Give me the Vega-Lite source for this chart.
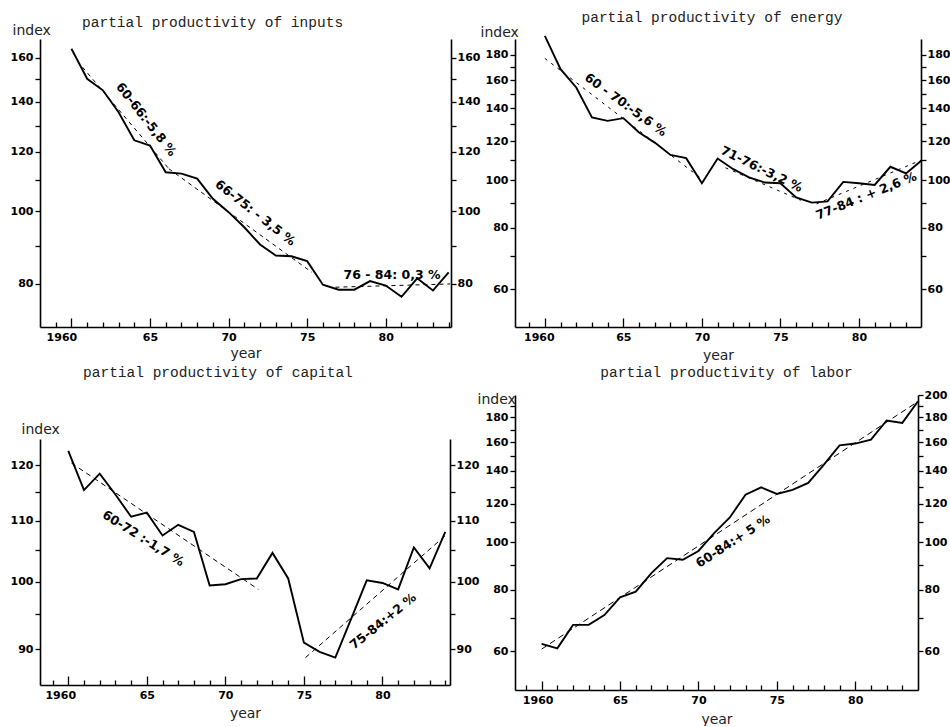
{
  "$schema": "https://vega.github.io/schema/vega-lite/v6.json",
  "padding": {"left": 10, "top": 9, "right": 0, "bottom": 0},
  "background": "white",
  "bounds": "full",
  "spacing": -3,
  "datasets": {
    "inputs": [
      {"year": 1960, "value": 164.6}, {"year": 1961, "value": 150.1}, {"year": 1962, "value": 144.9},
      {"year": 1963, "value": 135.5}, {"year": 1964, "value": 124.3}, {"year": 1965, "value": 122.3},
      {"year": 1966, "value": 112.7}, {"year": 1967, "value": 112.2}, {"year": 1968, "value": 110.5},
      {"year": 1969, "value": 103.9}, {"year": 1970, "value": 99.7}, {"year": 1971, "value": 95.2},
      {"year": 1972, "value": 90.3}, {"year": 1973, "value": 87.3}, {"year": 1974, "value": 87.1},
      {"year": 1975, "value": 85.8}, {"year": 1976, "value": 79.8}, {"year": 1977, "value": 78.6},
      {"year": 1978, "value": 78.6}, {"year": 1979, "value": 80.7}, {"year": 1980, "value": 79.6},
      {"year": 1981, "value": 76.9}, {"year": 1982, "value": 81.4}, {"year": 1983, "value": 78.4},
      {"year": 1984, "value": 82.9}
    ],
    "inputs_trend": [
      {"seg": "a", "year": 1960.7, "value": 155.6}, {"seg": "a", "year": 1966.2, "value": 113.9},
      {"seg": "b", "year": 1966.2, "value": 113.9}, {"seg": "b", "year": 1975.3, "value": 82.9},
      {"seg": "c", "year": 1976.8, "value": 79.2}, {"seg": "c", "year": 1984.1, "value": 80.0}
    ],
    "inputs_notes": [
      {"n": 1, "year": 1964.75, "value": 132.5, "text": "60-66:-5,8 %"},
      {"n": 2, "year": 1971.7, "value": 99.5, "text": "66-75: - 3,5 %"},
      {"n": 3, "year": 1980.4, "value": 82.2, "text": "76 - 84: 0,3 %"}
    ],
    "energy": [
      {"year": 1960, "value": 196.9}, {"year": 1961, "value": 168.4}, {"year": 1962, "value": 154.5},
      {"year": 1963, "value": 134.2}, {"year": 1964, "value": 132.1}, {"year": 1965, "value": 133.8},
      {"year": 1966, "value": 125.1}, {"year": 1967, "value": 119.3}, {"year": 1968, "value": 112.6},
      {"year": 1969, "value": 110.9}, {"year": 1970, "value": 98.6}, {"year": 1971, "value": 110.7},
      {"year": 1972, "value": 105.3}, {"year": 1973, "value": 101.3}, {"year": 1974, "value": 98.9},
      {"year": 1975, "value": 98.6}, {"year": 1976, "value": 92.2}, {"year": 1977, "value": 90.0},
      {"year": 1978, "value": 90.5}, {"year": 1979, "value": 99.2}, {"year": 1980, "value": 98.6},
      {"year": 1981, "value": 97.8}, {"year": 1982, "value": 106.5}, {"year": 1983, "value": 103.2},
      {"year": 1984, "value": 109.8}
    ],
    "energy_trend": [
      {"seg": "a", "year": 1960.0, "value": 177.1}, {"seg": "a", "year": 1970.1, "value": 100.0},
      {"seg": "b", "year": 1971.5, "value": 106.0}, {"seg": "b", "year": 1976.3, "value": 91.0},
      {"seg": "c", "year": 1977.3, "value": 89.5}, {"seg": "c", "year": 1984.0, "value": 110.0}
    ],
    "energy_notes": [
      {"n": 1, "year": 1965.14, "value": 142.4, "text": "60 - 70:-5,6 %"},
      {"n": 2, "year": 1973.8, "value": 105.3, "text": "71-76:-3,2 %"},
      {"n": 3, "year": 1980.47, "value": 92.9, "text": "77-84 : + 2,6 %"}
    ],
    "capital": [
      {"year": 1960, "value": 122.7}, {"year": 1961, "value": 115.4}, {"year": 1962, "value": 118.4},
      {"year": 1963, "value": 114.6}, {"year": 1964, "value": 110.7}, {"year": 1965, "value": 111.4},
      {"year": 1966, "value": 107.5}, {"year": 1967, "value": 109.3}, {"year": 1968, "value": 108.1},
      {"year": 1969, "value": 99.4}, {"year": 1970, "value": 99.6}, {"year": 1971, "value": 100.4},
      {"year": 1972, "value": 100.5}, {"year": 1973, "value": 104.6}, {"year": 1974, "value": 100.5},
      {"year": 1975, "value": 90.9}, {"year": 1976, "value": 89.6}, {"year": 1977, "value": 88.8},
      {"year": 1978, "value": 94.3}, {"year": 1979, "value": 100.2}, {"year": 1980, "value": 99.8},
      {"year": 1981, "value": 98.8}, {"year": 1982, "value": 105.5}, {"year": 1983, "value": 102.1},
      {"year": 1984, "value": 108.1}
    ],
    "capital_trend": [
      {"seg": "a", "year": 1960.2, "value": 120.4}, {"seg": "a", "year": 1972.1, "value": 98.8},
      {"seg": "b", "year": 1975.1, "value": 88.8}, {"seg": "b", "year": 1984.1, "value": 107.7}
    ],
    "capital_notes": [
      {"n": 1, "year": 1964.77, "value": 107.0, "text": "60-72 :-1,7 %"},
      {"n": 2, "year": 1980.04, "value": 94.0, "text": "75-84:+2 %"}
    ],
    "labor": [
      {"year": 1960, "value": 62.1}, {"year": 1961, "value": 60.8}, {"year": 1962, "value": 67.9},
      {"year": 1963, "value": 67.9}, {"year": 1964, "value": 71.1}, {"year": 1965, "value": 77.3},
      {"year": 1966, "value": 79.4}, {"year": 1967, "value": 86.6}, {"year": 1968, "value": 92.9},
      {"year": 1969, "value": 92.2}, {"year": 1970, "value": 96.1}, {"year": 1971, "value": 104.5},
      {"year": 1972, "value": 112.5}, {"year": 1973, "value": 125.2}, {"year": 1974, "value": 129.6},
      {"year": 1975, "value": 125.6}, {"year": 1976, "value": 128.1}, {"year": 1977, "value": 132.3},
      {"year": 1978, "value": 144.2}, {"year": 1979, "value": 157.9}, {"year": 1980, "value": 159.2},
      {"year": 1981, "value": 162.2}, {"year": 1982, "value": 177.4}, {"year": 1983, "value": 175.4},
      {"year": 1984, "value": 194.2}
    ],
    "labor_trend": [
      {"seg": "a", "year": 1960.0, "value": 60.6}, {"seg": "a", "year": 1984.0, "value": 194.0}
    ],
    "labor_notes": [
      {"n": 1, "year": 1972.2, "value": 100.5, "text": "60-84:+ 5 %"}
    ]
  },
  "hconcat": [
    {
      "bounds": "flush",
      "spacing": 112,
      "vconcat": [
        {
          "width": 411, "height": 288,
          "title": {"text": "partial productivity of inputs", "anchor": "start", "dx": 72, "offset": -7},
          "encoding": {
            "x": {"field": "year", "type": "quantitative", "scale": {"domain": [1958, 1984.15], "nice": false, "zero": false},
              "axis": {"values": [1959,1960,1961,1962,1963,1964,1965,1966,1967,1968,1969,1970,1971,1972,1973,1974,1975,1976,1977,1978,1979,1980,1981,1982,1983,1984],
                "labelExpr": "datum.value % 5 === 0 ? (datum.value === 1960 ? '1960' : substring(toString(datum.value), 2, 4)) : ''",
                "tickSize": {"condition": {"test": "datum.value % 5 === 0", "value": -9}, "value": -5},
                "labelOffset": {"condition": {"test": "datum.value === 1960", "value": -10}, "value": 0},
                "labelPadding": 13, "labelFlush": false, "labelOverlap": false,
                "title": "year", "titlePadding": 0}},
            "y": {"field": "value", "type": "quantitative", "scale": {"type": "log", "domain": [70.1, 169.6], "nice": false}, "axis": null}
          },
          "layer": [
            {"data": {"name": "inputs"}, "mark": {"type": "line", "color": "#000", "strokeWidth": 1.9},
              "encoding": {"y": {"field": "value", "type": "quantitative", "scale": {"type": "log", "domain": [70.1, 169.6], "nice": false},
                "axis": {"orient": "left", "values": [80,90,100,110,120,130,140,150,160], "labelExpr": "datum.value % 20 === 0 ? toString(datum.value) : ''",
                  "labelOverlap": false, "labelFlush": false, "title": "index", "titleAngle": 0, "titleAlign": "left", "titleBaseline": "middle", "titleX": -28, "titleY": -9}}}},
            {"data": {"name": "inputs_trend"}, "mark": {"type": "line", "color": "#000", "strokeWidth": 1, "strokeDash": [4, 4]},
              "encoding": {"detail": {"field": "seg"},
                "y": {"field": "value", "type": "quantitative", "scale": {"type": "log", "domain": [70.1, 169.6], "nice": false},
                "axis": {"orient": "right", "values": [80,90,100,110,120,130,140,150,160], "labelExpr": "datum.value % 20 === 0 ? toString(datum.value) : ''",
                  "labelOverlap": false, "labelFlush": false, "labelPadding": 1, "title": null}}}},
            {"data": {"name": "inputs_notes"}, "transform": [{"filter": "datum.n === 1"}], "mark": {"type": "text", "angle": 52, "font": "DejaVu Sans", "fontWeight": "bold", "fontSize": 12.5, "color": "#000"}, "encoding": {"text": {"field": "text"}}},
            {"data": {"name": "inputs_notes"}, "transform": [{"filter": "datum.n === 2"}], "mark": {"type": "text", "angle": 38, "font": "DejaVu Sans", "fontWeight": "bold", "fontSize": 12.5, "color": "#000"}, "encoding": {"text": {"field": "text"}}},
            {"data": {"name": "inputs_notes"}, "transform": [{"filter": "datum.n === 3"}], "mark": {"type": "text", "angle": 0, "font": "DejaVu Sans", "fontWeight": "bold", "fontSize": 12.5, "color": "#000"}, "encoding": {"text": {"field": "text"}}}
          ],
          "resolve": {"axis": {"y": "independent"}}
        },
        {
          "width": 410, "height": 246,
          "title": {"text": "partial productivity of capital", "anchor": "start", "dx": 73, "offset": 42},
          "encoding": {
            "x": {"field": "year", "type": "quantitative", "scale": {"domain": [1958.2, 1984.3], "nice": false, "zero": false},
              "axis": {"values": [1959,1960,1961,1962,1963,1964,1965,1966,1967,1968,1969,1970,1971,1972,1973,1974,1975,1976,1977,1978,1979,1980,1981,1982,1983,1984],
                "labelExpr": "datum.value % 5 === 0 ? (datum.value === 1960 ? '1960' : substring(toString(datum.value), 2, 4)) : ''",
                "tickSize": {"condition": {"test": "datum.value % 5 === 0", "value": -9}, "value": -5},
                "labelOffset": {"condition": {"test": "datum.value === 1960", "value": -8}, "value": 0},
                "labelPadding": 13, "labelFlush": false, "labelOverlap": false,
                "title": "year", "titlePadding": 2}},
            "y": {"field": "value", "type": "quantitative", "scale": {"type": "log", "domain": [85.08, 125], "nice": false}, "axis": null}
          },
          "layer": [
            {"data": {"name": "capital"}, "mark": {"type": "line", "color": "#000", "strokeWidth": 1.9},
              "encoding": {"y": {"field": "value", "type": "quantitative", "scale": {"type": "log", "domain": [85.08, 125], "nice": false},
                "axis": {"orient": "left", "values": [90,95,100,105,110,115,120], "labelExpr": "datum.value % 10 === 0 ? toString(datum.value) : ''",
                  "labelOverlap": false, "labelFlush": false, "title": "index", "titleAngle": 0, "titleAlign": "left", "titleBaseline": "middle", "titleX": -19, "titleY": -10}}}},
            {"data": {"name": "capital_trend"}, "mark": {"type": "line", "color": "#000", "strokeWidth": 1, "strokeDash": [5, 4]},
              "encoding": {"detail": {"field": "seg"},
                "y": {"field": "value", "type": "quantitative", "scale": {"type": "log", "domain": [85.08, 125], "nice": false},
                "axis": {"orient": "right", "values": [90,95,100,105,110,115,120], "labelExpr": "datum.value % 10 === 0 ? toString(datum.value) : ''",
                  "labelOverlap": false, "labelFlush": false, "labelPadding": 1, "title": null}}}},
            {"data": {"name": "capital_notes"}, "transform": [{"filter": "datum.n === 1"}], "mark": {"type": "text", "angle": 32, "font": "DejaVu Sans", "fontWeight": "bold", "fontSize": 12.5, "color": "#000"}, "encoding": {"text": {"field": "text"}}},
            {"data": {"name": "capital_notes"}, "transform": [{"filter": "datum.n === 2"}], "mark": {"type": "text", "angle": -39, "font": "DejaVu Sans", "fontWeight": "bold", "fontSize": 12.5, "color": "#000"}, "encoding": {"text": {"field": "text"}}}
          ],
          "resolve": {"axis": {"y": "independent"}}
        }
      ]
    },
    {
      "bounds": "flush",
      "spacing": 68,
      "vconcat": [
        {
          "width": 406, "height": 288,
          "title": {"text": "partial productivity of energy", "anchor": "middle", "dx": -6, "offset": 0},
          "encoding": {
            "x": {"field": "year", "type": "quantitative", "scale": {"domain": [1958.1, 1983.95], "nice": false, "zero": false},
              "axis": {"values": [1959,1960,1961,1962,1963,1964,1965,1966,1967,1968,1969,1970,1971,1972,1973,1974,1975,1976,1977,1978,1979,1980,1981,1982,1983],
                "labelExpr": "datum.value % 5 === 0 ? (datum.value === 1960 ? '1960' : substring(toString(datum.value), 2, 4)) : ''",
                "tickSize": {"condition": {"test": "datum.value % 5 === 0", "value": -9}, "value": -5},
                "labelOffset": {"condition": {"test": "datum.value === 1960", "value": -6}, "value": 0},
                "labelPadding": 13, "labelFlush": false, "labelOverlap": false,
                "title": "year", "titlePadding": 2}},
            "y": {"field": "value", "type": "quantitative", "scale": {"type": "log", "domain": [50.2, 194], "nice": false}, "axis": null}
          },
          "layer": [
            {"data": {"name": "energy"}, "mark": {"type": "line", "color": "#000", "strokeWidth": 1.9},
              "encoding": {"y": {"field": "value", "type": "quantitative", "scale": {"type": "log", "domain": [50.2, 194], "nice": false},
                "axis": {"orient": "left", "values": [60,70,80,90,100,110,120,130,140,150,160,170,180], "labelExpr": "datum.value % 20 === 0 ? toString(datum.value) : ''",
                  "labelOverlap": false, "labelFlush": false, "title": "index", "titleAngle": 0, "titleAlign": "left", "titleBaseline": "middle", "titleX": -35, "titleY": -7}}}},
            {"data": {"name": "energy_trend"}, "mark": {"type": "line", "color": "#000", "strokeWidth": 1, "strokeDash": [3, 5]},
              "encoding": {"detail": {"field": "seg"},
                "y": {"field": "value", "type": "quantitative", "scale": {"type": "log", "domain": [50.2, 194], "nice": false},
                "axis": {"orient": "right", "values": [60,70,80,90,100,110,120,130,140,150,160,170,180], "labelExpr": "datum.value % 20 === 0 ? toString(datum.value) : ''",
                  "labelOverlap": false, "labelFlush": false, "labelPadding": 1, "title": null}}}},
            {"data": {"name": "energy_notes"}, "transform": [{"filter": "datum.n === 1"}], "mark": {"type": "text", "angle": 36, "font": "DejaVu Sans", "fontWeight": "bold", "fontSize": 12.5, "color": "#000"}, "encoding": {"text": {"field": "text"}}},
            {"data": {"name": "energy_notes"}, "transform": [{"filter": "datum.n === 2"}], "mark": {"type": "text", "angle": 26, "font": "DejaVu Sans", "fontWeight": "bold", "fontSize": 12.5, "color": "#000"}, "encoding": {"text": {"field": "text"}}},
            {"data": {"name": "energy_notes"}, "transform": [{"filter": "datum.n === 3"}], "mark": {"type": "text", "angle": -22, "font": "DejaVu Sans", "fontWeight": "bold", "fontSize": 12.5, "color": "#000"}, "encoding": {"text": {"field": "text"}}}
          ],
          "resolve": {"axis": {"y": "independent"}}
        },
        {
          "width": 403, "height": 295,
          "title": {"text": "partial productivity of labor", "anchor": "middle", "dx": 10, "offset": 9},
          "encoding": {
            "x": {"field": "year", "type": "quantitative", "scale": {"domain": [1958.3, 1984], "nice": false, "zero": false},
              "axis": {"values": [1959,1960,1961,1962,1963,1964,1965,1966,1967,1968,1969,1970,1971,1972,1973,1974,1975,1976,1977,1978,1979,1980,1981,1982,1983],
                "labelExpr": "datum.value % 5 === 0 ? (datum.value === 1960 ? '1960' : substring(toString(datum.value), 2, 4)) : ''",
                "tickSize": {"condition": {"test": "datum.value % 5 === 0", "value": -9}, "value": -5},
                "labelOffset": {"condition": {"test": "datum.value === 1960", "value": -4}, "value": 0},
                "labelPadding": 13, "labelFlush": false, "labelOverlap": false,
                "title": "year", "titlePadding": 3}},
            "y": {"field": "value", "type": "quantitative", "scale": {"type": "log", "domain": [50, 200], "nice": false}, "axis": null}
          },
          "layer": [
            {"data": {"name": "labor"}, "mark": {"type": "line", "color": "#000", "strokeWidth": 1.9},
              "encoding": {"y": {"field": "value", "type": "quantitative", "scale": {"type": "log", "domain": [50, 200], "nice": false},
                "axis": {"orient": "left", "values": [60,70,80,90,100,110,120,130,140,150,160,170,180,190], "labelExpr": "datum.value % 20 === 0 ? toString(datum.value) : ''",
                  "labelOverlap": false, "labelFlush": false, "title": "index", "titleAngle": 0, "titleAlign": "left", "titleBaseline": "middle", "titleX": -38, "titleY": 4}}}},
            {"data": {"name": "labor_trend"}, "mark": {"type": "line", "color": "#000", "strokeWidth": 1, "strokeDash": [6, 4]},
              "encoding": {"detail": {"field": "seg"},
                "y": {"field": "value", "type": "quantitative", "scale": {"type": "log", "domain": [50, 200], "nice": false},
                "axis": {"orient": "right", "values": [60,70,80,90,100,110,120,130,140,150,160,170,180,190,200], "labelExpr": "datum.value % 20 === 0 ? toString(datum.value) : ''",
                  "labelOverlap": false, "labelFlush": false, "labelPadding": 1, "title": null}}}},
            {"data": {"name": "labor_notes"}, "mark": {"type": "text", "angle": -33, "font": "DejaVu Sans", "fontWeight": "bold", "fontSize": 12.5, "color": "#000"}, "encoding": {"text": {"field": "text"}}}
          ],
          "resolve": {"axis": {"y": "independent"}}
        }
      ]
    }
  ],
  "config": {
    "view": {"stroke": null},
    "axis": {
      "grid": false,
      "domainColor": "#000", "domainWidth": 1.6,
      "tickColor": "#000", "tickWidth": 1.3, "tickSize": 5,
      "labelColor": "#000", "labelFont": "DejaVu Sans", "labelFontWeight": "bold", "labelFontSize": 11,
      "titleColor": "#222", "titleFont": "DejaVu Sans", "titleFontWeight": "normal", "titleFontSize": 14
    },
    "title": {"font": "Liberation Mono", "fontSize": 14.5, "fontWeight": "normal", "color": "#222"}
  }
}
